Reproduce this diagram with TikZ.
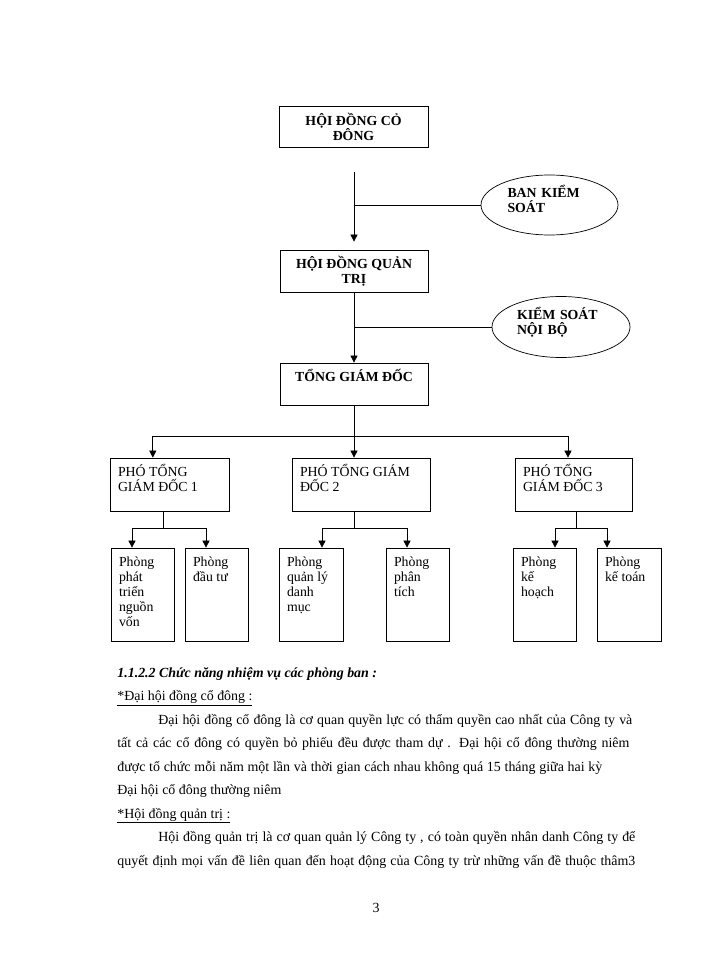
\documentclass[tikz,border=0pt]{standalone}
\usepackage{fontspec}
\setmainfont{Liberation Serif}
\usetikzlibrary{arrows.meta,shapes.geometric}

\newcommand\boxfont{\fontsize{11.8}{12.8}\selectfont}
\newcommand\bodyfont{\fontsize{11.9}{14}\selectfont}

\tikzset{
  box/.style={draw, inner sep=0pt},
  oval/.style={draw, ellipse, inner sep=0pt},
  headtext/.style={align=center, font=\boxfont\bfseries},
  intext/.style={anchor=north west, align=left, inner sep=0pt, font=\boxfont,
    xshift=0.24cm, yshift=-0.27cm},
  txtline/.style={anchor=base west, inner sep=0pt, font=\bodyfont}
}

\begin{document}
\begin{tikzpicture}[x=0.03cm, y=-0.03cm, line width=0.6pt,
    >={Triangle[length=6pt,width=6pt]}]
  \useasboundingbox (0,0) rectangle (700,960);

  % top of the chart
  \node[box, headtext, minimum width=4.47cm, minimum height=1.23cm] (hdcd)
    at (353.5,126.5) {HỘI ĐỒNG CỎ\\ĐÔNG};
  \node[box, headtext, minimum width=4.44cm, minimum height=1.26cm] (hdqt)
    at (354,271) {HỘI ĐỒNG QUẢN\\TRỊ};
  \node[box, minimum width=4.44cm, minimum height=1.26cm,
    label={[anchor=north, inner sep=0pt, font=\boxfont\bfseries, yshift=-0.2cm]north:TỔNG GIÁM ĐỐC}] (tgd)
    at (354,384) {};

  \node[oval, minimum width=4.11cm, minimum height=1.8cm,
    label={[text width=2.52cm, align=left, inner sep=0pt, font=\boxfont\bfseries, yshift=0.18cm]center:{BAN KIỂM\\SOÁT}}] (bks)
    at (549.5,205) {};
  \node[oval, minimum width=4.14cm, minimum height=1.83cm,
    label={[text width=2.64cm, align=left, inner sep=0pt, font=\boxfont\bfseries, yshift=0.15cm]center:{KIỂM SOÁT\\NỘI BỘ}}] (ksnb)
    at (561,327) {};

  \coordinate (t1) at (354,172);
  \draw[->] (t1) -- ([yshift=0.24cm]hdqt.north);
  \draw (bks.west) -- (bks.west -| t1);
  \draw[->] (hdqt.south) -- (tgd.north);
  \draw (ksnb.west) -- (ksnb.west -| hdqt.south);

  % deputy directors
  \node[box, minimum width=3.57cm, minimum height=1.59cm,
    label={[intext, yshift=0.08cm]north west:{PHÓ TỔNG\\GIÁM ĐỐC 1}}] (pho1) at (169.5,484.5) {};
  \node[box, minimum width=4.14cm, minimum height=1.59cm,
    label={[intext, yshift=0.08cm]north west:{PHÓ TỔNG GIÁM\\ĐỐC 2}}] (pho2) at (361,484.5) {};
  \node[box, minimum width=3.51cm, minimum height=1.59cm,
    label={[intext, yshift=0.08cm]north west:{PHÓ TỔNG\\GIÁM ĐỐC 3}}] (pho3) at (573.5,484.5) {};

  \coordinate (bus) at (354,436);
  \draw (tgd.south) -- (bus);
  \draw[->] (bus) -| ([xshift=-0.5cm]pho1.north);
  \draw[->] (bus) -- (bus |- pho2.north);
  \draw[->] (bus) -| ([xshift=-0.165cm]pho3.north);

  % departments
  \foreach \nm/\x/\w/\txt in {p1/142.5/1.89/{Phòng\\phát\\triển\\nguồn\\vốn},
                              p2/216.5/1.89/{Phòng\\đầu tư},
                              p3/311/1.92/{Phòng\\quản lý\\danh\\mục},
                              p4/417.5/1.89/{Phòng\\phân\\tích},
                              p5/544.5/1.89/{Phòng\\kế\\hoạch},
                              p6/629/1.92/{Phòng\\kế toán}} {
    \node[box, minimum width=\w cm, minimum height=2.79cm,
      label={[intext]north west:\txt}] (\nm) at (\x,594.5) {};
  }
  \foreach \up/\j/\a/\b/\da/\db in {pho1/163/p1/p2/-0.315/-0.315,
                                     pho2/354/p3/p4/0.33/-0.315,
                                     pho3/576/p5/p6/0.315/-0.66} {
    \coordinate (j\up) at (\j,528);
    \draw (j\up |- \up.south) -- (j\up);
    \draw[->] (j\up) -| ([xshift=\da cm]\a.north);
    \draw[->] (j\up) -| ([xshift=\db cm]\b.north);
  }

  % text of the page
  \node[txtline] (l1) at (117,677) {\bfseries\itshape 1.1.2.2 Chức năng nhiệm vụ các phòng ban :};
  \node[txtline] (l2) at (117,700.5) {\underline{*Đại hội đồng cổ đông :}};
  \node[txtline] (l3) at (158,724) {\makebox[14.22cm][s]{Đại hội đồng cổ đông là cơ quan quyền lực có thẩm quyền cao nhất của Công ty và}};
  \node[txtline] (l4) at (117,747.5) {\makebox[15.36cm][s]{tất cả các cổ đông có quyền bỏ phiếu đều được tham dự . Đại hội cổ đông thường niêm}};
  \node[txtline] (l5) at (117,771) {\makebox[14.55cm][s]{được tổ chức mỗi năm một lần và thời gian cách nhau không quá 15 tháng giữa hai kỳ}};
  \node[txtline] (l6) at (117,794.5) {Đại hội cổ đông thường niêm};
  \node[txtline] (l7) at (117,818) {\underline{*Hội đồng quản trị :}};
  \node[txtline] (l8) at (158,841.5) {\makebox[14.31cm][s]{Hội đồng quản trị là cơ quan quản lý Công ty , có toàn quyền nhân danh Công ty để}};
  \node[txtline] (l9) at (117,865) {\makebox[15.54cm][s]{quyết định mọi vấn đề liên quan đến hoạt động của Công ty trừ những vấn đề thuộc thâm3}};
  \node[txtline, anchor=base] (pg) at (376,912) {3};
\end{tikzpicture}
\end{document}
